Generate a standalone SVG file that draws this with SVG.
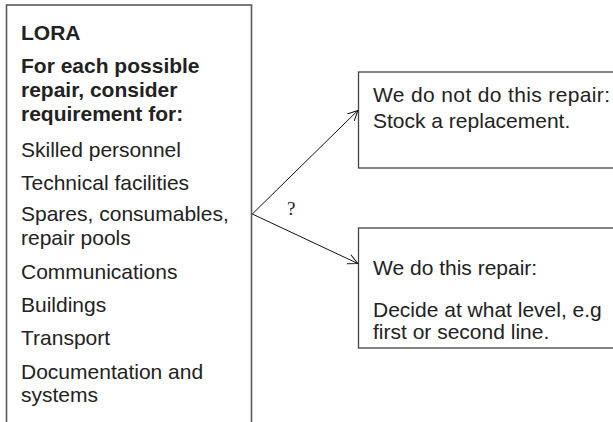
<svg xmlns="http://www.w3.org/2000/svg" width="613" height="422" viewBox="0 0 613 422">
<defs>
<style>
.t{font-family:"Liberation Sans",Arial,sans-serif;font-size:21px;fill:#222}
.b{font-weight:bold}
.box{fill:#fff;stroke:#444;stroke-width:1.3}
.conn{stroke:#111;stroke-width:1;fill:none}
.q{font-family:"Liberation Serif","Times New Roman",serif;font-size:19px;fill:#222}
</style>
<marker id="arr" markerWidth="12" markerHeight="12" refX="10" refY="5" orient="auto" markerUnits="userSpaceOnUse" viewBox="0 0 12 10">
<path d="M0,0 L10,5 L0,10" fill="none" stroke="#111" stroke-width="1"/>
</marker>
</defs>
<rect width="613" height="422" fill="#fff"/>
<g id="lora">
<rect x="6.5" y="5" width="245" height="440" fill="#fff" stroke="#5a5a5a" stroke-width="1.6"/>
<text class="t b" x="21" y="39.5">LORA</text>
<text class="t b" x="21" y="73">For each possible</text>
<text class="t b" x="21" y="97">repair, consider</text>
<text class="t b" x="21" y="120.5">requirement for:</text>
<text class="t" x="21" y="156.5">Skilled personnel</text>
<text class="t" x="21" y="189.5">Technical facilities</text>
<text class="t" x="21" y="221">Spares, consumables,</text>
<text class="t" x="21" y="245">repair pools</text>
<text class="t" x="21" y="278.5">Communications</text>
<text class="t" x="21" y="312">Buildings</text>
<text class="t" x="21" y="345">Transport</text>
<text class="t" x="21" y="378.5">Documentation and</text>
<text class="t" x="21" y="402">systems</text>
</g>
<g id="no-repair">
<rect class="box" x="358.5" y="72" width="300" height="96"/>
<text class="t" x="373" y="102" textLength="237" lengthAdjust="spacing">We do not do this repair:</text>
<text class="t" x="373" y="128">Stock a replacement.</text>
</g>
<g id="do-repair">
<rect class="box" x="358.5" y="228" width="300" height="120"/>
<text class="t" x="373" y="275">We do this repair:</text>
<text class="t" x="373" y="317">Decide at what level, e.g</text>
<text class="t" x="373" y="338.5">first or second line.</text>
</g>
<g id="connectors">
<line class="conn" x1="252.3" y1="214" x2="357.8" y2="110.5" marker-end="url(#arr)"/>
<line class="conn" x1="252.3" y1="214" x2="357.8" y2="263.5" marker-end="url(#arr)"/>
<text class="q" x="287" y="215">?</text>
</g>
</svg>
